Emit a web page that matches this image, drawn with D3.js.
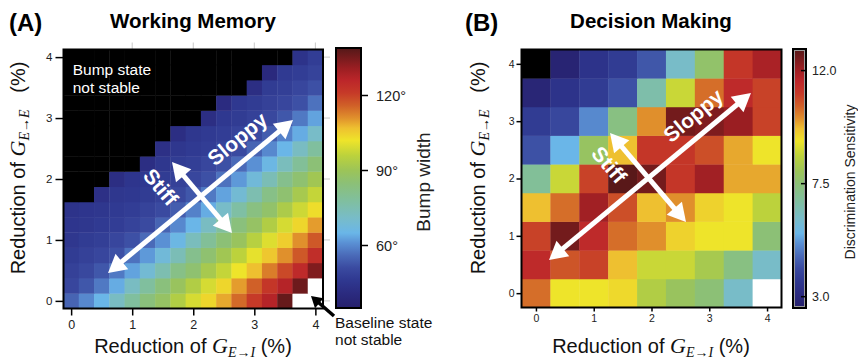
<!DOCTYPE html>
<html><head><meta charset="utf-8">
<script src="https://cdn.jsdelivr.net/npm/d3@7"></script>
<style>
body{margin:0;background:#fff}
svg{display:block;font-family:"Liberation Sans",Arial,sans-serif}
text{white-space:pre}
</style>
</head><body>
<svg id="chart" width="858" height="360"></svg>
<script>
// ---------- DATA ----------
const B = null;  // "Bump state not stable" (black)
const W = -1;    // "Baseline state not stable" (white)

// Panel A: Working memory, bump width (deg). rows: G_E->E reduction (bottom->top), cols: G_E->I reduction
const wmGEI = [0,0.25,0.5,0.75,1,1.25,1.5,1.75,2,2.25,2.5,2.75,3,3.25,3.5,3.75,4];
const wmGEE = [0,0.25,0.5,0.75,1,1.25,1.5,1.75,2,2.25,2.5,2.75,3,3.25,3.5,3.75,4];
const wmWidth = [
  [55,60,65,72,78,84,88,94,99,104,109,115,121,127,137,W,W],
  [50,53,58,64,72,78,84,89,94,99,104,110,116,122,127,136,W],
  [48.5,50.5,53,58,63,69,75,82,86,92,97,102,107,113,119,125,134],
  [47,48.5,50,52,57,62,68,74,81,86,91,96,101,106,111,117,124],
  [45.5,47,48,50,52,56,61,66,73,79,85,89,95,100,105,111,117],
  [45,45.5,46.5,47.5,49,51,55,60,65,72,78,84,88,94,99,104,110],
  [44,45,45.5,46.5,47.5,49,51,54,59,64,71,77,83,87,93,98,103],
  [B,B,43,45.5,46,47,48.5,50.5,53,58,63,69,75,82,86,92,97],
  [B,B,B,42,45,46,47,48.5,50,52,57,62,68,74,81,86,91],
  [B,B,B,B,B,42,45.5,47,48,50,52,56,61,66,73,79,85],
  [B,B,B,B,B,B,43,45.5,46.5,47.5,49,51,55,60,65,72,78],
  [B,B,B,B,B,B,B,42,45.5,46.5,47.5,49,51,54,59,64,71],
  [B,B,B,B,B,B,B,B,B,42,46,47,48.5,50.5,53,58,63],
  [B,B,B,B,B,B,B,B,B,B,41,46,47,48.5,50,52,57],
  [B,B,B,B,B,B,B,B,B,B,B,B,42,47,48,50,52],
  [B,B,B,B,B,B,B,B,B,B,B,B,B,40,46.5,47.5,49],
  [B,B,B,B,B,B,B,B,B,B,B,B,B,B,B,44,47.5]
];
const wmRange = [35,139];
const wmBarTicks = [60,90,120];
const wmBarLabels = ["60°","90°","120°"];

// Panel B: Decision making, discrimination sensitivity
const dmGEI = [0,0.5,1,1.5,2,2.5,3,3.5,4];
const dmGEE = [0,0.5,1,1.5,2,2.5,3,3.5,4];
const dmSensitivity = [
  [10.43,9.19,9.19,9.34,8.4,7.9,7.5,6.12,W],
  [11.47,10.72,10.97,9.69,8.75,8.75,8.2,7.3,6.12],
  [10.97,12.51,11.47,10.43,10.09,9.44,9.19,9.19,7.5],
  [9.69,10.43,11.97,10.8,9.69,10.09,9.44,9.19,8.6],
  [6.91,8.75,10.97,12.8,12.51,11.18,11.97,9.89,9.89],
  [4.24,5.52,7.85,9.69,11.18,11.18,10.8,9.89,9.19],
  [3.74,4.04,5.03,7.3,10.09,12.51,12.37,12.07,10.97],
  [2.85,3.45,3.74,4.24,6.61,8.75,10.43,11.47,10.97],
  [B,2.75,3.45,3.74,4.33,6.12,7.7,11.18,11.83]
];
const dmRange = [2.55,12.86];
const dmBarTicks = [3.0,7.5,12.0];
const dmBarLabels = ["3.0","7.5","12.0"];

const axisTicks = [0,1,2,3,4];

// colour map (position 0..1 -> colour)
const palettePos = [0,.0577,.1058,.1538,.2019,.25,.2885,.3462,.4135,.4808,.5288,.5865,.6442,.6923,.7308,.7788,.8269,.875,.9231,1];
const paletteCol = ["#26206c","#2b2b80","#2f3890","#3a4aa0","#4a6ab8","#5a90d4","#6ab6e8","#78bcc8","#80bf9e","#8cc076","#9cc458","#bcd23c","#eee42a","#eec030","#e0902c","#d06028","#c63a28","#bc262a","#9a1e22","#541818"];

// ---------- DRAW ----------
const svg = d3.select("#chart");
const cmap = d3.scaleLinear().domain(palettePos).range(paletteCol).clamp(true);
const FONT = '"Liberation Sans",Arial,sans-serif';
const SERIF = '"Liberation Serif","Times New Roman",serif';

const defs = svg.append("defs");
const grad = defs.append("linearGradient").attr("id","cbgrad")
  .attr("x1",0).attr("y1",1).attr("x2",0).attr("y2",0);
palettePos.forEach((p,i)=>grad.append("stop").attr("offset",p).attr("stop-color",paletteCol[i]));

function mathLabel(sel, sub, gap){
  sel.append("tspan").text("Reduction of ");
  sel.append("tspan").attr("font-family",SERIF).attr("font-style","italic").attr("font-size","22px").text("G");
  const s = sel.append("tspan").attr("font-size","14px").attr("dy",3.5);
  s.append("tspan").attr("font-family",SERIF).attr("font-style","italic").text(sub[0]);
  s.append("tspan").attr("font-family",SERIF).text("\u2192");
  s.append("tspan").attr("font-family",SERIF).attr("font-style","italic").text(sub[1]);
  sel.append("tspan").attr("dy",-3.5).text(gap + "(%)");
}

function doubleArrow(g, p1, p2, lw, hl, hw, color){
  const dx=p2[0]-p1[0], dy=p2[1]-p1[1], L=Math.hypot(dx,dy), ux=dx/L, uy=dy/L, nx=-uy, ny=ux;
  g.append("line").attr("x1",p1[0]+ux*hl*0.8).attr("y1",p1[1]+uy*hl*0.8)
    .attr("x2",p2[0]-ux*hl*0.8).attr("y2",p2[1]-uy*hl*0.8)
    .attr("stroke",color).attr("stroke-width",lw);
  [[p2,1],[p1,-1]].forEach(([p,s])=>{
    const bx=p[0]-s*ux*hl, by=p[1]-s*uy*hl;
    g.append("path").attr("d",`M${p[0]},${p[1]}L${bx+nx*hw},${by+ny*hw}L${bx-nx*hw},${by-ny*hw}Z`).attr("fill",color);
  });
}
function singleArrow(g, p1, p2, lw, hl, hw, color){
  const dx=p2[0]-p1[0], dy=p2[1]-p1[1], L=Math.hypot(dx,dy), ux=dx/L, uy=dy/L, nx=-uy, ny=ux;
  g.append("line").attr("x1",p1[0]).attr("y1",p1[1]).attr("x2",p2[0]-ux*hl*0.8).attr("y2",p2[1]-uy*hl*0.8)
    .attr("stroke",color).attr("stroke-width",lw);
  const bx=p2[0]-ux*hl, by=p2[1]-uy*hl;
  g.append("path").attr("d",`M${p2[0]},${p2[1]}L${bx+nx*hw},${by+ny*hw}L${bx-nx*hw},${by-ny*hw}Z`).attr("fill",color);
}

function panel(cfg){
  const g = svg.append("g");
  const xs = cfg.xv, ys = cfg.yv;
  const hx = (xs[1]-xs[0])/2, hy = (ys[1]-ys[0])/2;
  const x = d3.scaleLinear().domain([xs[0]-hx, xs[xs.length-1]+hx]).range(cfg.xr);
  const y = d3.scaleLinear().domain([ys[0]-hy, ys[ys.length-1]+hy]).range(cfg.yr);
  const norm = d3.scaleLinear().domain(cfg.range).range([0,1]);
  const cells = [];
  cfg.values.forEach((row,i)=>row.forEach((v,j)=>cells.push({x:xs[j],y:ys[i],v})));
  g.append("g").selectAll("rect").data(cells).join("rect")
    .attr("x",d=>x(d.x-hx)).attr("y",d=>y(d.y+hy))
    .attr("width",d=>x(d.x+hx)-x(d.x-hx)+0.4).attr("height",d=>y(d.y-hy)-y(d.y+hy)+0.4)
    .attr("fill",d=>d.v===null?"#000":(d.v===W?"#fff":cmap(norm(d.v))));

  // faint outer ticks top/right
  if(cfg.faint){
    g.append("g").selectAll("line").data(axisTicks.slice(1)).join("line")
      .attr("x1",d=>x(d)).attr("x2",d=>x(d)).attr("y1",cfg.yr[1]-7).attr("y2",cfg.yr[1])
      .attr("stroke","#c8c8c8").attr("stroke-width",1);
    g.append("g").selectAll("line").data(axisTicks).join("line")
      .attr("y1",d=>y(d)).attr("y2",d=>y(d)).attr("x1",cfg.xr[1]).attr("x2",cfg.xr[1]+7)
      .attr("stroke","#c8c8c8").attr("stroke-width",1);
  }

  // axes
  const ax = g.append("g").attr("transform",`translate(0,${cfg.yr[0]})`)
    .call(d3.axisBottom(x).tickValues(axisTicks).tickFormat(d3.format("d")).tickSize(cfg.tx).tickSizeOuter(0).tickPadding(cfg.txp));
  ax.select(".domain").remove();
  ax.selectAll("line").attr("stroke","#000").attr("stroke-width",1.5);
  ax.selectAll("text").attr("font-size",cfg.tickFont).attr("font-family",FONT).attr("fill","#222");
  const ay = g.append("g").attr("transform",`translate(${cfg.xr[0]},0)`)
    .call(d3.axisLeft(y).tickValues(axisTicks).tickFormat(d3.format("d")).tickSize(cfg.ty).tickSizeOuter(0).tickPadding(cfg.typ));
  ay.select(".domain").remove();
  ay.selectAll("line").attr("stroke","#000").attr("stroke-width",1.5);
  ay.selectAll("text").attr("font-size",cfg.tickFontY).attr("font-family",FONT).attr("fill","#222");

  // frame
  g.append("rect").attr("x",cfg.xr[0]).attr("y",cfg.yr[1]).attr("width",cfg.xr[1]-cfg.xr[0]).attr("height",cfg.yr[0]-cfg.yr[1])
    .attr("fill","none").attr("stroke","#000").attr("stroke-width",2);

  // titles
  svg.append("text").attr("x",cfg.letterX).attr("y",31).attr("font-size","24px").attr("font-weight","bold").attr("font-family",FONT).text(cfg.letter);
  svg.append("text").attr("x",cfg.titleX).attr("y",28).attr("text-anchor","middle").attr("font-size","20.5px").attr("font-weight","bold").attr("font-family",FONT).text(cfg.title);
  const xt = svg.append("text").attr("x",cfg.titleX).attr("y",353).attr("text-anchor","middle").attr("font-size","20px").attr("font-family",FONT).attr("fill","#111");
  mathLabel(xt,["E","I"]," ");
  const yt = svg.append("text").attr("transform",`translate(${cfg.yTitleX},168) rotate(-90)`).attr("text-anchor","middle").attr("font-size","20px").attr("font-family",FONT).attr("fill","#111");
  mathLabel(yt,["E","E"],"   ");

  // arrows
  const P = a=>[x(a[0]),y(a[1])];
  doubleArrow(g,P(cfg.sloppy[0]),P(cfg.sloppy[1]),5,18,10,"#fff");
  doubleArrow(g,P(cfg.stiff[0]),P(cfg.stiff[1]),5,18,10,"#fff");
  const ang = (a,b)=>Math.atan2(y(b[1])-y(a[1]),x(b[0])-x(a[0]))*180/Math.PI;
  g.append("text").attr("transform",`translate(${x(cfg.sloppyText[0])},${y(cfg.sloppyText[1])}) rotate(${ang(cfg.sloppy[0],cfg.sloppy[1])})`)
    .attr("text-anchor","middle").attr("dominant-baseline","central").attr("fill","#fff").attr("font-weight","bold").attr("font-size","21px").attr("font-family",FONT).text("Sloppy");
  g.append("text").attr("transform",`translate(${x(cfg.stiffText[0])},${y(cfg.stiffText[1])}) rotate(${ang(cfg.stiff[0],cfg.stiff[1])})`)
    .attr("text-anchor","middle").attr("dominant-baseline","central").attr("fill","#fff").attr("font-weight","bold").attr("font-size","21px").attr("font-family",FONT).text("Stiff");

  // colourbar
  const cb = cfg.cb;
  const cs = d3.scaleLinear().domain(cfg.range).range([cb.y1,cb.y0]);
  g.append("rect").attr("x",cb.x0).attr("y",cb.y0).attr("width",cb.x1-cb.x0).attr("height",cb.y1-cb.y0).attr("fill","url(#cbgrad)");
  if(cb.inner){
    g.append("rect").attr("x",cb.x0+1.5).attr("y",cb.y0+1.5).attr("width",cb.x1-cb.x0-3).attr("height",cb.y1-cb.y0-3).attr("fill","none").attr("stroke","#9a9a9a").attr("stroke-width",1);
  }
  g.append("rect").attr("x",cb.x0).attr("y",cb.y0).attr("width",cb.x1-cb.x0).attr("height",cb.y1-cb.y0).attr("fill","none").attr("stroke","#000").attr("stroke-width",2);
  g.append("g").selectAll("line").data(cfg.barTicks).join("line")
    .attr("x1",cb.x1+cb.tk0).attr("x2",cb.x1+cb.tk1).attr("y1",d=>cs(d)).attr("y2",d=>cs(d)).attr("stroke","#000").attr("stroke-width",1.5);
  g.append("g").selectAll("text").data(cfg.barTicks).join("text")
    .attr("x",cb.lx).attr("y",d=>cs(d)).attr("dominant-baseline","central").attr("font-size",cb.lf).attr("font-family",FONT).attr("fill","#222")
    .text((d,i)=>cfg.barLabels[i]);
  g.append("text").attr("transform",`translate(${cb.tx},${cb.ty}) rotate(-90)`).attr("text-anchor","middle")
    .attr("font-size",cb.tf).attr("font-family",FONT).attr("fill","#222").text(cb.title);
  return {g,x,y};
}

const A = panel({
  xv:wmGEI, yv:wmGEE, values:wmWidth, range:wmRange,
  xr:[63.5,323], yr:[308.5,49.5], faint:true,
  tx:7, txp:5, ty:8, typ:3, tickFont:"12.5px", tickFontY:"11.5px",
  letter:"(A)", letterX:9, title:"Working Memory", titleX:193, yTitleX:25,
  sloppy:[[0.604,0.457],[3.634,2.968]], stiff:[[1.652,2.279],[2.635,1.114]],
  sloppyText:[2.72,2.66], stiffText:[1.47,1.87],
  barTicks:wmBarTicks, barLabels:wmBarLabels,
  cb:{x0:336,x1:361,y0:48,y1:308,tk0:0,tk1:7,lx:376,lf:"14.5px",tx:430,ty:182,tf:"19px",title:"Bump width"}
});
const Bp = panel({
  xv:dmGEI, yv:dmGEE, values:dmSensitivity, range:dmRange,
  xr:[521.5,781.5], yr:[307.5,49.5], faint:false,
  tx:4, txp:3, ty:5, typ:2, tickFont:"10.5px", tickFontY:"10.5px",
  letter:"(B)", letterX:465, title:"Decision Making", titleX:651, yTitleX:485,
  sloppy:[[0.226,0.578],[3.722,3.49]], stiff:[[1.282,2.794],[2.597,1.241]],
  sloppyText:[2.72,3.1], stiffText:[1.27,2.24],
  barTicks:dmBarTicks, barLabels:dmBarLabels,
  cb:{x0:793,x1:806,y0:49,y1:308,tk0:-5,tk1:0,lx:812,lf:"12.5px",tx:855,ty:182,tf:"14px",title:"Discrimination Sensitivity",inner:true}
});

// annotations panel A
const ann = A.g.append("g").attr("font-family",FONT).attr("font-size","15.5px");
ann.append("text").attr("x",A.x(0.026)).attr("y",A.y(3.707)).attr("fill","#fff").text("Bump state");
ann.append("text").attr("x",A.x(0.026)).attr("y",A.y(3.41)).attr("fill","#fff").text("not stable");
ann.append("text").attr("x",A.x(4.322)).attr("y",A.y(-0.445)).attr("fill","#111").text("Baseline state");
ann.append("text").attr("x",A.x(4.322)).attr("y",A.y(-0.724)).attr("fill","#111").text("not stable");
singleArrow(A.g,[A.x(4.305),A.y(-0.248)],[A.x(3.928),A.y(0.08)],3.5,11,6.5,"#000");
</script>
</body></html>
